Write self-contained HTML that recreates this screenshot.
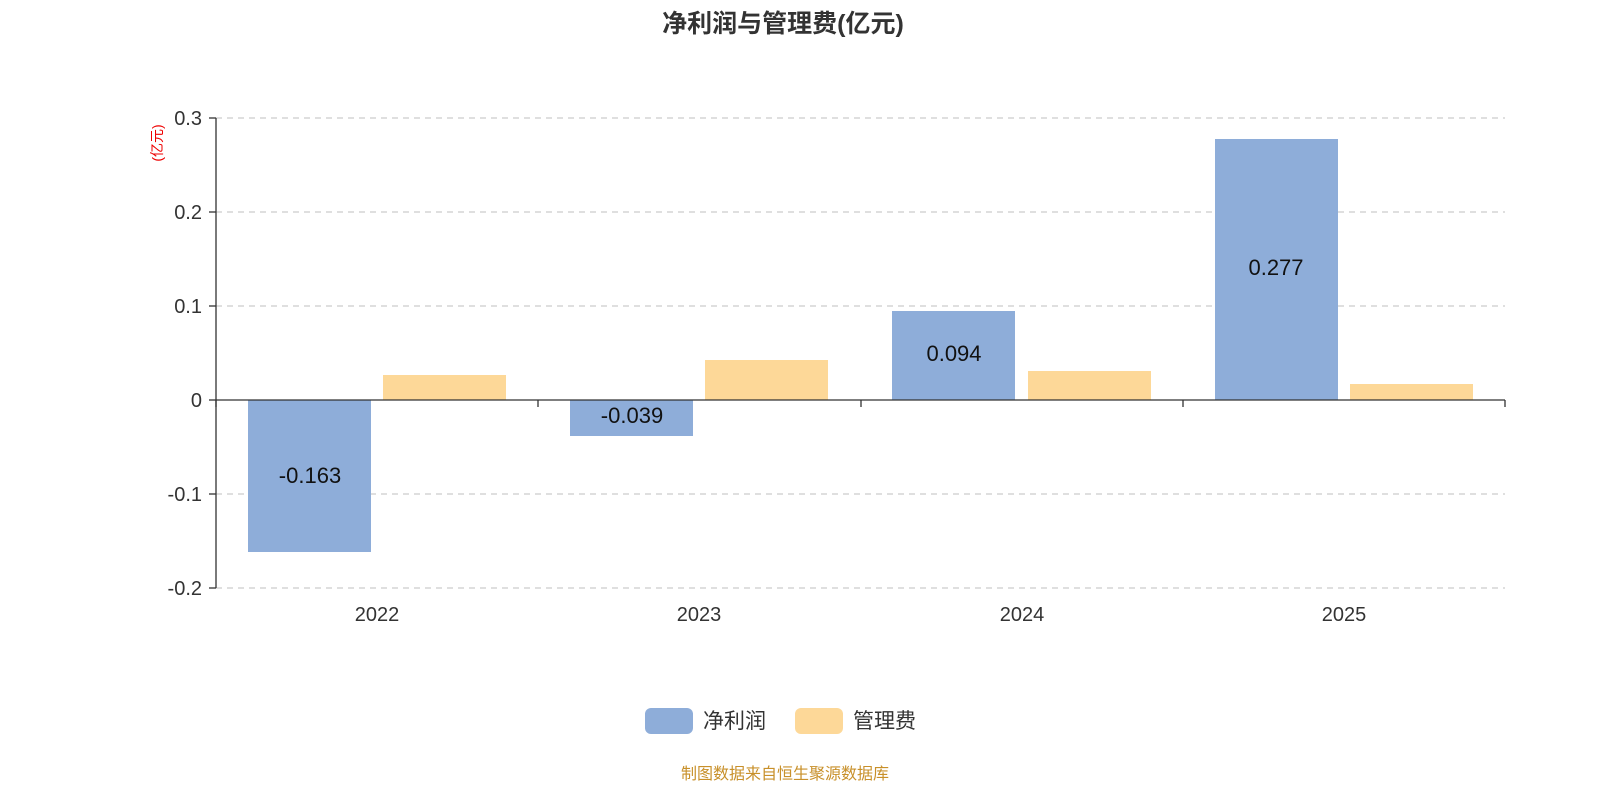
<!DOCTYPE html>
<html><head><meta charset="utf-8"><style>
html,body{margin:0;padding:0;background:#fff;}
svg{display:block;font-family:"Liberation Sans","Noto Sans CJK SC",sans-serif;}
</style></head><body>
<svg width="1600" height="800" xmlns="http://www.w3.org/2000/svg">
<text x="783" y="32" text-anchor="middle" font-size="25" font-weight="bold" fill="#333">净利润与管理费(亿元)</text>
<text transform="translate(162,143) rotate(-90)" text-anchor="middle" font-size="14" fill="#e00">(亿元)</text>
<g stroke="#ccc" stroke-dasharray="6,5" stroke-width="1.2">
<line x1="216" y1="118" x2="1505" y2="118"/>
<line x1="216" y1="212" x2="1505" y2="212"/>
<line x1="216" y1="306" x2="1505" y2="306"/>
<line x1="216" y1="494" x2="1505" y2="494"/>
<line x1="216" y1="588" x2="1505" y2="588"/>
</g>
<g stroke="#333" stroke-width="1.3">
<line x1="216" y1="118" x2="216" y2="588"/>
<line x1="209" y1="118" x2="216" y2="118"/>
<line x1="209" y1="212" x2="216" y2="212"/>
<line x1="209" y1="306" x2="216" y2="306"/>
<line x1="209" y1="400" x2="216" y2="400"/>
<line x1="209" y1="494" x2="216" y2="494"/>
<line x1="209" y1="588" x2="216" y2="588"/>
</g>
<g font-size="20" fill="#333" text-anchor="end">
<text x="202" y="125">0.3</text><text x="202" y="219">0.2</text><text x="202" y="313">0.1</text>
<text x="202" y="407">0</text><text x="202" y="501">-0.1</text><text x="202" y="595">-0.2</text>
</g>
<g fill="#8eadd9">
<rect x="248" y="400" width="123" height="152"/>
<rect x="570" y="400" width="123" height="36"/>
<rect x="892" y="311" width="123" height="89"/>
<rect x="1215" y="139" width="123" height="261"/>
</g>
<g fill="#fdd898">
<rect x="383" y="375" width="123" height="25"/>
<rect x="705" y="360" width="123" height="40"/>
<rect x="1028" y="371" width="123" height="29"/>
<rect x="1350" y="384" width="123" height="16"/>
</g>
<g stroke="#333" stroke-width="1.3">
<line x1="216" y1="400" x2="1505" y2="400"/>
<line x1="216" y1="400" x2="216" y2="407"/>
<line x1="538" y1="400" x2="538" y2="407"/>
<line x1="861" y1="400" x2="861" y2="407"/>
<line x1="1183" y1="400" x2="1183" y2="407"/>
<line x1="1505" y1="400" x2="1505" y2="407"/>
</g>
<g font-size="22" fill="#111" text-anchor="middle">
<text x="310" y="483">-0.163</text>
<text x="632" y="423">-0.039</text>
<text x="954" y="361">0.094</text>
<text x="1276" y="275">0.277</text>
</g>
<g font-size="20" fill="#333" text-anchor="middle">
<text x="377" y="621">2022</text><text x="699" y="621">2023</text>
<text x="1022" y="621">2024</text><text x="1344" y="621">2025</text>
</g>
<rect x="645" y="708" width="48" height="26" rx="6" fill="#8eadd9"/>
<text x="703" y="728" font-size="21" fill="#333">净利润</text>
<rect x="795" y="708" width="48" height="26" rx="6" fill="#fdd898"/>
<text x="853" y="728" font-size="21" fill="#333">管理费</text>
<text x="785" y="779" text-anchor="middle" font-size="16" fill="#c8902a">制图数据来自恒生聚源数据库</text>
</svg>
</body></html>
